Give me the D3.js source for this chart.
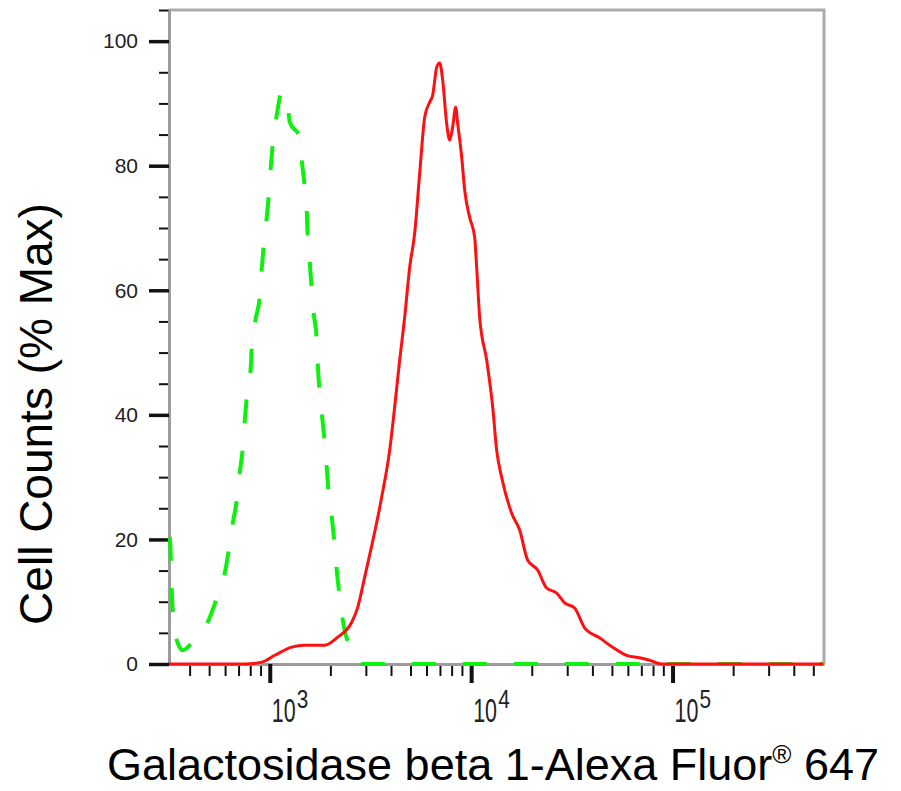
<!DOCTYPE html>
<html>
<head>
<meta charset="utf-8">
<script src="https://cdnjs.cloudflare.com/ajax/libs/d3/7.8.5/d3.min.js"></script>
<style>
  body { margin: 0; background: #fff; }
  svg { display: block; font-family: "Liberation Sans", Arial, sans-serif; }
</style>
</head>
<body>
<div id="chart"></div>
<script>
//////////////////////////////////////////////
// Data //////////////////////////////////////
//////////////////////////////////////////////

// isotype control (green dashed)
var isotypeX = [319, 323, 326, 330, 349, 370, 410, 492, 546, 598, 626, 655, 686, 710, 735, 752, 769, 805, 814, 852,
  892, 913, 934, 966, 989, 1012, 1035, 1083, 1147, 1214, 1257, 1409, 1441, 1492, 1526, 1544, 1580, 1616, 1653, 1712,
  1731, 1812, 1875, 1918, 1963, 2031, 2102, 2150, 2225, 2303, 2495, 2703, 2894, 560000];
var isotypeY = [20.4, 16.7, 11.9, 8.7, 3.4, 2.2, 3.4, 6.7, 10.6, 14.6, 18.3, 22.6, 26.3, 30.8, 34.7, 39.2, 42.9, 47.7, 50.9, 55.5,
  58.9, 63.6, 67.3, 71.7, 75.3, 79.8, 83.6, 88.1, 91.8, 90.9, 87.0, 84.6, 80.9, 76.6, 72.9, 68.4, 64.5, 60.0, 56.3, 52.0,
  48.3, 40.3, 35.5, 31.6, 27.1, 23.6, 18.8, 15.1, 10.8, 7.1, 2.7, 0.6, 0, 0];

// stained sample (red solid)
var sampleX = [316, 752, 913, 1059, 1286, 1492, 1875, 2175, 2552, 2734, 2962, 3596, 3939, 4172, 4418, 4677, 4953, 5244,
  5553, 5879, 6223, 6440, 6743, 6978, 7224, 7556, 7822, 8095, 8378, 8570, 8973, 9285, 9831, 10410, 10650, 11020,
  11940, 12790, 13390, 14170, 15890, 17410, 19070, 21380, 23700, 26570, 29110, 32640, 36590, 43420, 50380, 59110,
  68590, 76890, 89220, 560000];
var sampleY = [0, 0, 0.3, 1.4, 2.7, 3.0, 3.0, 4.3, 6.7, 9.1, 14.0, 26.8, 34.3, 41.3, 48.8, 55.7, 63.7, 69.2,
  78.8, 87.8, 90.2, 91.3, 95.8, 96.5, 93.7, 86.8, 84.1, 86.2, 89.4, 86.8, 81.4, 76.1, 71.7, 68.5, 63.7, 55.7,
  48.8, 41.3, 34.3, 30.0, 24.2, 21.5, 16.7, 15.1, 12.2, 11.4, 9.8, 9.0, 5.8, 4.2, 2.7, 1.4,
  1.0, 0.6, 0, 0];

var yMajorTicks = [0, 20, 40, 60, 80, 100];
var yMinorTicks = [5, 10, 15, 25, 30, 35, 45, 50, 55, 65, 70, 75, 85, 90, 95, 105];
var xMajorTicks = [1e3, 1e4, 1e5];
var xMajorExp = ["3", "4", "5"];
var xMinorTicks = [400, 500, 600, 700, 800, 900,
  2000, 3000, 4000, 5000, 6000, 7000, 8000, 9000,
  20000, 30000, 40000, 50000, 60000, 70000, 80000, 90000,
  200000, 300000, 400000, 500000];

var xTitle = "Galactosidase beta 1-Alexa Fluor";
var yTitle = "Cell Counts (% Max)";

//////////////////////////////////////////////
// Chart Config //////////////////////////////
//////////////////////////////////////////////

var plotL = 169, plotR = 824, plotT = 10, plotB = 664;

var xScale = d3.scaleLog().domain([316, 565000]).range([plotL, plotR]);
var yScale = d3.scaleLinear().domain([0, 105]).range([plotB, plotT]);

var svg = d3.select("#chart").append("svg")
    .attr("width", 901)
    .attr("height", 791);

// frame (top + right)
svg.append("path")
    .attr("d", "M" + plotL + "," + plotT + "H" + plotR + "V" + plotB)
    .style("fill", "none")
    .style("stroke", "#ababab")
    .style("stroke-width", 3);

//////////////////////////////////////////////
// Axes //////////////////////////////////////
//////////////////////////////////////////////

function styleAxis(g, w) {
  g.select(".domain").style("stroke", "#9c9c9c").style("stroke-width", 3);
  g.selectAll(".tick line").style("stroke", "#111").style("stroke-width", w);
}

// y minor
svg.append("g")
    .attr("transform", "translate(" + plotL + ",0)")
    .call(d3.axisLeft(yScale).tickValues(yMinorTicks).tickSize(10).tickSizeOuter(0).tickFormat(""))
    .call(styleAxis, 2);

// y major
var yAxisEl = svg.append("g")
    .attr("transform", "translate(" + plotL + ",0)")
    .call(d3.axisLeft(yScale).tickValues(yMajorTicks).tickSize(20).tickSizeOuter(0).tickPadding(11))
    .call(styleAxis, 3.5);
yAxisEl.selectAll(".tick text")
    .style("font-family", "Liberation Sans, Arial, sans-serif")
    .style("font-size", "21px")
    .style("fill", "#222");

// x minor
svg.append("g")
    .attr("transform", "translate(0," + plotB + ")")
    .call(d3.axisBottom(xScale).tickValues(xMinorTicks).tickSize(12).tickSizeOuter(0).tickFormat(""))
    .call(styleAxis, 2);

// x major
var xAxisEl = svg.append("g")
    .attr("transform", "translate(0," + plotB + ")")
    .call(d3.axisBottom(xScale).tickValues(xMajorTicks).tickSize(19).tickSizeOuter(0).tickFormat(""))
    .call(styleAxis, 4);

// x labels as 10^n (narrow digits)
xMajorTicks.forEach(function(v, i) {
  var x = xScale(v);
  svg.append("text")
      .attr("transform", "translate(" + (x + 2) + ",722) scale(0.65,1)")
      .style("font-size", "33px")
      .style("fill", "#222")
      .text("10");
  svg.append("text")
      .attr("transform", "translate(" + (x + 27) + ",708) scale(0.8,1)")
      .style("font-size", "26px")
      .style("fill", "#222")
      .text(xMajorExp[i]);
});

//////////////////////////////////////////////
// Lines /////////////////////////////////////
//////////////////////////////////////////////

var line = d3.line()
    .x(function(d) { return xScale(d[0]); })
    .y(function(d) { return yScale(d[1]); })
    .curve(d3.curveMonotoneX);

svg.append("path")
    .datum(d3.zip(isotypeX, isotypeY))
    .attr("d", line)
    .style("fill", "none")
    .style("stroke", "#0ef00e")
    .style("stroke-width", 4)
    .style("stroke-dasharray", "24,27");

svg.append("path")
    .datum(d3.zip(sampleX, sampleY))
    .attr("d", line)
    .style("fill", "none")
    .style("stroke", "#ff1010")
    .style("stroke-width", 3);

//////////////////////////////////////////////
// Titles ////////////////////////////////////
//////////////////////////////////////////////

var xt = svg.append("text")
    .attr("x", 493)
    .attr("y", 780)
    .attr("text-anchor", "middle")
    .style("font-size", "45px")
    .style("fill", "#000");
xt.append("tspan").text(xTitle);
xt.append("tspan").attr("dy", -17).style("font-size", "26px").text("\u00AE");
xt.append("tspan").attr("dy", 17).text(" 647");

svg.append("text")
    .attr("transform", "translate(52,414) rotate(-90)")
    .attr("text-anchor", "middle")
    .style("font-size", "46px")
    .style("fill", "#000")
    .text(yTitle);
</script>
</body>
</html>
